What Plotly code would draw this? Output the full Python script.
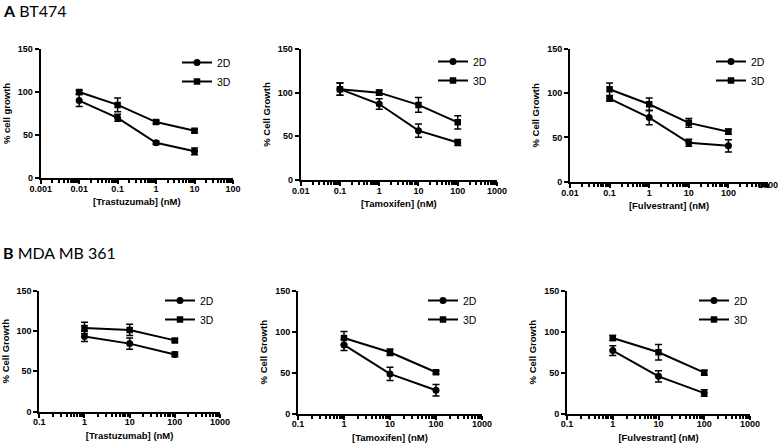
import plotly.graph_objects as go

W, H = 778, 445

# ---------------- data ----------------
# Panel A: BT474
a1_x = [0.01, 0.1, 1, 10]
a1_2d = [90, 70, 41, 31]
a1_2d_err = [7, 4, 2, 4]
a1_3d = [100, 85, 65, 55]
a1_3d_err = [2, 8, 2, 2]

a2_x = [0.1, 1, 10, 100]
a2_2d = [104, 87, 56.5, 43]
a2_2d_err = [7, 6, 7.5, 3.5]
a2_3d = [104, 100, 86, 66]
a2_3d_err = [7, 3, 8.5, 7.5]

a3_x = [0.1, 1, 10, 100]
a3_2d = [94, 72.5, 44, 40.5]
a3_2d_err = [3, 8, 4, 7]
a3_3d = [104.5, 87.5, 66.5, 56.5]
a3_3d_err = [7, 7, 5, 3]

# Panel B: MDA MB 361
b1_x = [1, 10, 100]
b1_2d = [93.5, 84.5, 71]
b1_2d_err = [6.5, 7, 3]
b1_3d = [104, 101.5, 88.5]
b1_3d_err = [7, 7, 2]

b2_x = [1, 10, 100]
b2_2d = [84, 48.5, 28.5]
b2_2d_err = [7, 8, 7]
b2_3d = [92.5, 75, 50.5]
b2_3d_err = [8, 4, 2]

b3_x = [1, 10, 100]
b3_2d = [77, 45.5, 25]
b3_2d_err = [6, 7, 4]
b3_3d = [92.5, 75, 50]
b3_3d_err = [3, 9.5, 3]

series_names = ["2D", "3D"]
y_ticks = [0, 50, 100, 150]
drug_titles = ["[Trastuzumab] (nM)", "[Tamoxifen] (nM)", "[Fulvestrant] (nM)",
               "[Trastuzumab] (nM)", "[Tamoxifen] (nM)", "[Fulvestrant] (nM)"]
y_titles = ["% cell growth", "% Cell Growth", "% Cell Growth",
            "% Cell Growth", "% Cell Growth", "% Cell Growth"]
panel_titles = ["<b>A</b> BT474", "<b>B</b> MDA MB 361"]
x_decades = [(-3, 2), (-2, 3), (-2, 3), (-1, 3), (-1, 3), (-1, 3)]

panels = [
    (a1_x, a1_2d, a1_2d_err, a1_3d, a1_3d_err),
    (a2_x, a2_2d, a2_2d_err, a2_3d, a2_3d_err),
    (a3_x, a3_2d, a3_2d_err, a3_3d, a3_3d_err),
    (b1_x, b1_2d, b1_2d_err, b1_3d, b1_3d_err),
    (b2_x, b2_2d, b2_2d_err, b2_3d, b2_3d_err),
    (b3_x, b3_2d, b3_2d_err, b3_3d, b3_3d_err),
]

# ---------------- layout geometry (pixels) ----------------
# (left, right, top, bottom) of each plot area
boxes = [
    (40.7, 233, 49, 178),
    (300.7, 497, 49, 180),
    (570, 768, 49, 181.7),
    (39.3, 220, 291, 411.5),
    (298, 482, 291, 413.5),
    (567, 750, 291, 413.5),
]
# legend text start x, first row y
legend_pos = [(217, 58), (473, 57), (751, 57), (200, 296), (463, 296), (734, 296)]


def fmt(v):
    return "%g" % v


fig = go.Figure()
BLACK = "black"
tickfont = dict(family="Liberation Sans, Arial", size=9, color=BLACK, weight="bold")
titlefont = dict(family="Liberation Sans, Arial", size=9.5, color=BLACK, weight="bold")

for i, (px, y2, e2, y3, e3) in enumerate(panels):
    n = i + 1
    xa = "x" if n == 1 else "x%d" % n
    ya = "y" if n == 1 else "y%d" % n
    leg = "legend" if n == 1 else "legend%d" % n
    for name, ys, es, sym in [("2D", y2, e2, "circle"), ("3D", y3, e3, "square")]:
        fig.add_trace(go.Scatter(
            x=px, y=ys, name=name, mode="lines+markers",
            line=dict(color=BLACK, width=2),
            marker=dict(symbol=sym, size=7 if sym == "circle" else 6.5, color=BLACK),
            error_y=dict(type="data", array=es, visible=True, color=BLACK,
                         thickness=1.5, width=3.5),
            xaxis=xa, yaxis=ya, legend=leg, showlegend=True,
        ))

    l, r, t, b = boxes[i]
    d0, d1 = x_decades[i]
    majors = [10.0 ** k for k in range(d0, d1 + 1)]
    minors = [m * 10.0 ** k for k in range(d0, d1) for m in range(2, 10)]
    labels = [fmt(v) for v in majors]
    edge = r > W - 12
    if edge:
        # the last label runs past the page edge and plotly drops it;
        # it is drawn below as unclipped text at that tick value instead
        labels[-1] = ""
    xkey = "xaxis" if n == 1 else "xaxis%d" % n
    ykey = "yaxis" if n == 1 else "yaxis%d" % n
    fig.layout[xkey] = dict(
        type="log", range=[d0, d1], domain=[l / W, r / W],
        anchor=ya, showline=True, linecolor=BLACK, linewidth=2,
        showgrid=False, zeroline=False,
        tickmode="array", tickvals=majors, ticktext=labels,
        ticks="outside", ticklen=4, tickwidth=2, tickcolor=BLACK,
        tickfont=tickfont, ticklabelstandoff=-3,
        minor=dict(tickmode="array", tickvals=minors, ticks="outside",
                   ticklen=3, tickwidth=1.5, tickcolor=BLACK, showgrid=False),
        title=dict(text=drug_titles[i], font=titlefont, standoff=6),
        automargin=False, fixedrange=True,
    )
    fig.layout[ykey] = dict(
        range=[0, 150], domain=[1 - b / H, 1 - t / H],
        anchor=xa, showline=True, linecolor=BLACK, linewidth=2,
        showgrid=False, zeroline=False,
        tickmode="array", tickvals=y_ticks, ticktext=[str(v) for v in y_ticks],
        ticks="outside", ticklen=4, tickwidth=2, tickcolor=BLACK,
        tickfont=tickfont,
        title=dict(text=y_titles[i], font=titlefont, standoff=6),
        automargin=False, fixedrange=True,
    )
    if edge:
        fig.add_trace(go.Scatter(
            x=[majors[-1]], y=[y_ticks[0]], mode="text", text=[fmt(majors[-1])],
            textposition="bottom center", textfont=tickfont, cliponaxis=False,
            xaxis=xa, yaxis=ya, showlegend=False, hoverinfo="skip",
        ))
    lx, ly = legend_pos[i]
    fig.layout[leg] = dict(
        x=(lx - 40) / W, xanchor="left", y=1 - (ly - 10) / H, yanchor="top",
        bgcolor="rgba(0,0,0,0)", borderwidth=0, tracegroupgap=0,
        font=dict(family="Liberation Sans, Arial", size=10.5, color=BLACK),
        itemwidth=30,
    )

fig.add_annotation(text=panel_titles[0], x=1 / W, y=1 - 10.5 / H, xref="paper", yref="paper",
                   xanchor="left", yanchor="middle", showarrow=False,
                   font=dict(family="Lato", size=16, color=BLACK))
fig.add_annotation(text=panel_titles[1], x=1 / W, y=1 - 252 / H, xref="paper", yref="paper",
                   xanchor="left", yanchor="middle", showarrow=False,
                   font=dict(family="Lato", size=16, color=BLACK))

fig.update_layout(
    width=W, height=H, margin=dict(l=0, r=0, t=0, b=0),
    paper_bgcolor="white", plot_bgcolor="white",
    showlegend=True,
)

fig.write_html("out.html", config=dict(displayModeBar=False),
               post_script="document.body.style.margin='0';document.body.style.padding='0';")
